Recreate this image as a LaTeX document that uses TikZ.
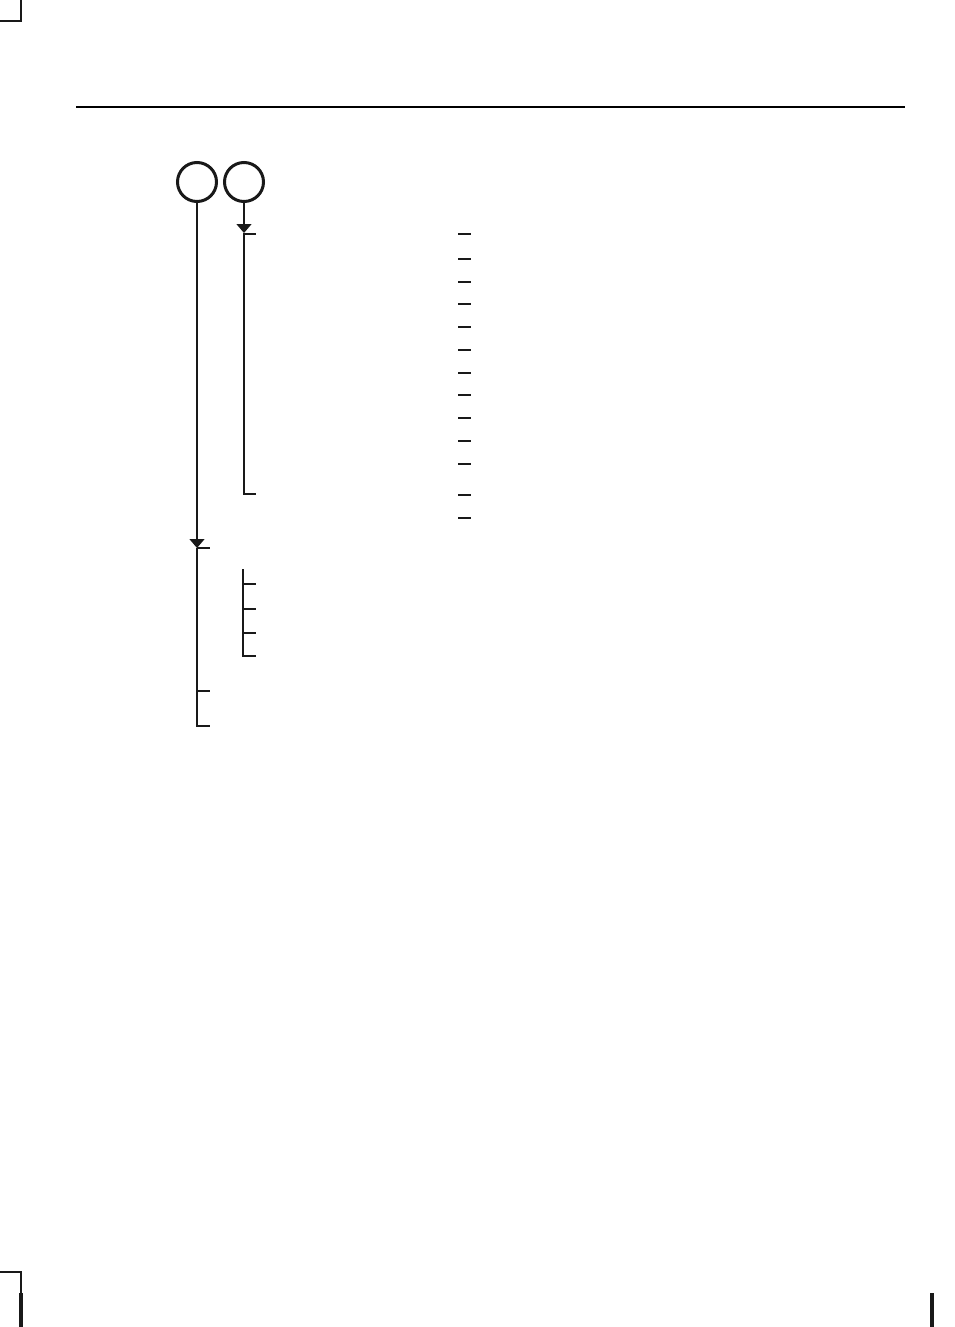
\documentclass[tikz,border=0pt]{standalone}
\usetikzlibrary{arrows.meta}
\begin{document}
\begin{tikzpicture}[x=0.5pt,y=-0.5pt,
  thin line/.style={line width=0.65pt,black!90},
  thick tick/.style={line width=1.1pt,black!90},
  ring/.style={circle,draw=black!90,line width=1.5pt,minimum size=19.5pt,inner sep=0pt},
  arrowed/.style={thin line,-{Triangle[width=7.5pt,length=4.5pt]}},
  crop/.style={line width=1.1pt,black!90}]
\useasboundingbox (0,0) rectangle (954,1327);
% crop marks
\draw[crop] (0,21) -- (21,21) -- (21,0);
\draw[crop] (0,1272) -- (21,1272) -- (21,1327);
\draw[line width=1.6pt,black!90] (21,1293) -- (21,1327);
\draw[line width=1.6pt,black!90] (932,1293) -- (932,1327);
% top rule
\draw[line width=0.8pt,black] (76,107) -- (905,107);
% circles
\node[ring] (c1) at (197,182) {};
\node[ring] (c2) at (244,182) {};
% second branch
\coordinate (a2) at (244,233);
\coordinate (b2) at (244,494);
\draw[arrowed] (c2.south) -- (a2);
\draw[thin line] (a2) -- (b2) -- (256,494);
\draw[thick tick] (244,234) -- (256,234);
% first branch
\coordinate (a1) at (197,548);
\coordinate (b1) at (197,726);
\draw[arrowed] (c1.south) -- (a1);
\draw[thin line] (a1) -- (b1) -- (210,726);
\draw[thin line] (a1) -- (210,548);
\draw[thick tick] (197,691) -- (210,691);
% sub bracket
\draw[thin line] (243,569) -- (243,656) -- (256,656);
\foreach \yy in {584,609,633} \draw[thin line] (243,\yy) -- (256,\yy);
% right column ticks
\foreach \yy in {259,304,327,350,395,418,441,464,495,518}
  \draw[thin line] (458,\yy) -- (471,\yy);
\foreach \yy in {234,282,373}
  \draw[thick tick] (458,\yy) -- (471,\yy);
\end{tikzpicture}
\end{document}
